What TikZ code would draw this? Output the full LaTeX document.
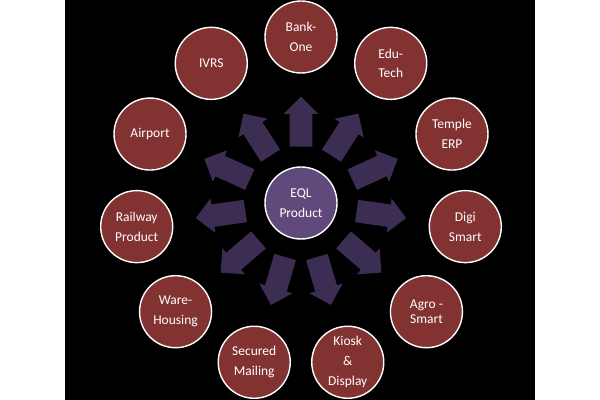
\documentclass[tikz,border=0pt]{standalone}
\usepackage{fontspec}
\setmainfont{Carlito}
\usepackage{xcolor}
\usepackage{tikz}
\usetikzlibrary{positioning, shapes.arrows}
\definecolor{tmaroon}{RGB}{130,50,48}
\definecolor{tpurple}{RGB}{96,74,124}
\definecolor{tarrow}{RGB}{60,45,82}

\begin{document}
\begin{tikzpicture}[x=0.025cm, y=0.025cm,
    every node/.style={font=\fontsize{9.6}{14.2}\selectfont, text=white},
    hub/.style={draw=white, line width=1pt, circle, fill=tpurple, minimum size=1.8cm, inner sep=0pt, align=center},
    product/.style={draw=white, line width=1pt, circle, fill=tmaroon, minimum size=1.8cm, inner sep=0pt, align=center},
    blockarrow/.style={single arrow, fill=tarrow, inner sep=0pt, text height=0.55cm, text depth=0pt, minimum height=1.25cm, single arrow head extend=0.15cm, anchor=tail}]
    \useasboundingbox (0,0) rectangle (600,400);
    \fill[black] (65,0) rectangle (535,400);
    \node[hub] (eql) at (301,197) {EQL\\Product};
    \foreach \name/\txt [count=\i from 0] in {bank/Bank-\\One, edu/Edu-\\Tech, temple/Temple\\ERP, digi/Digi\\Smart, agro/Agro -\\[-4.2pt]Smart, kiosk/Kiosk\\\&\\Display, secured/Secured\\Mailing, ware/Ware-\\Housing, railway/Railway\\Product, airport/Airport, ivrs/IVRS}{
      \pgfmathsetmacro\ang{90-\i*360/11}
      \path (eql.center) ++(\ang:166) node[product] (\name) {\txt};
      \path (eql.center) ++(\ang:56) node[blockarrow, rotate=\ang] (arr\name) {};
    }
  \end{tikzpicture}
\end{document}
